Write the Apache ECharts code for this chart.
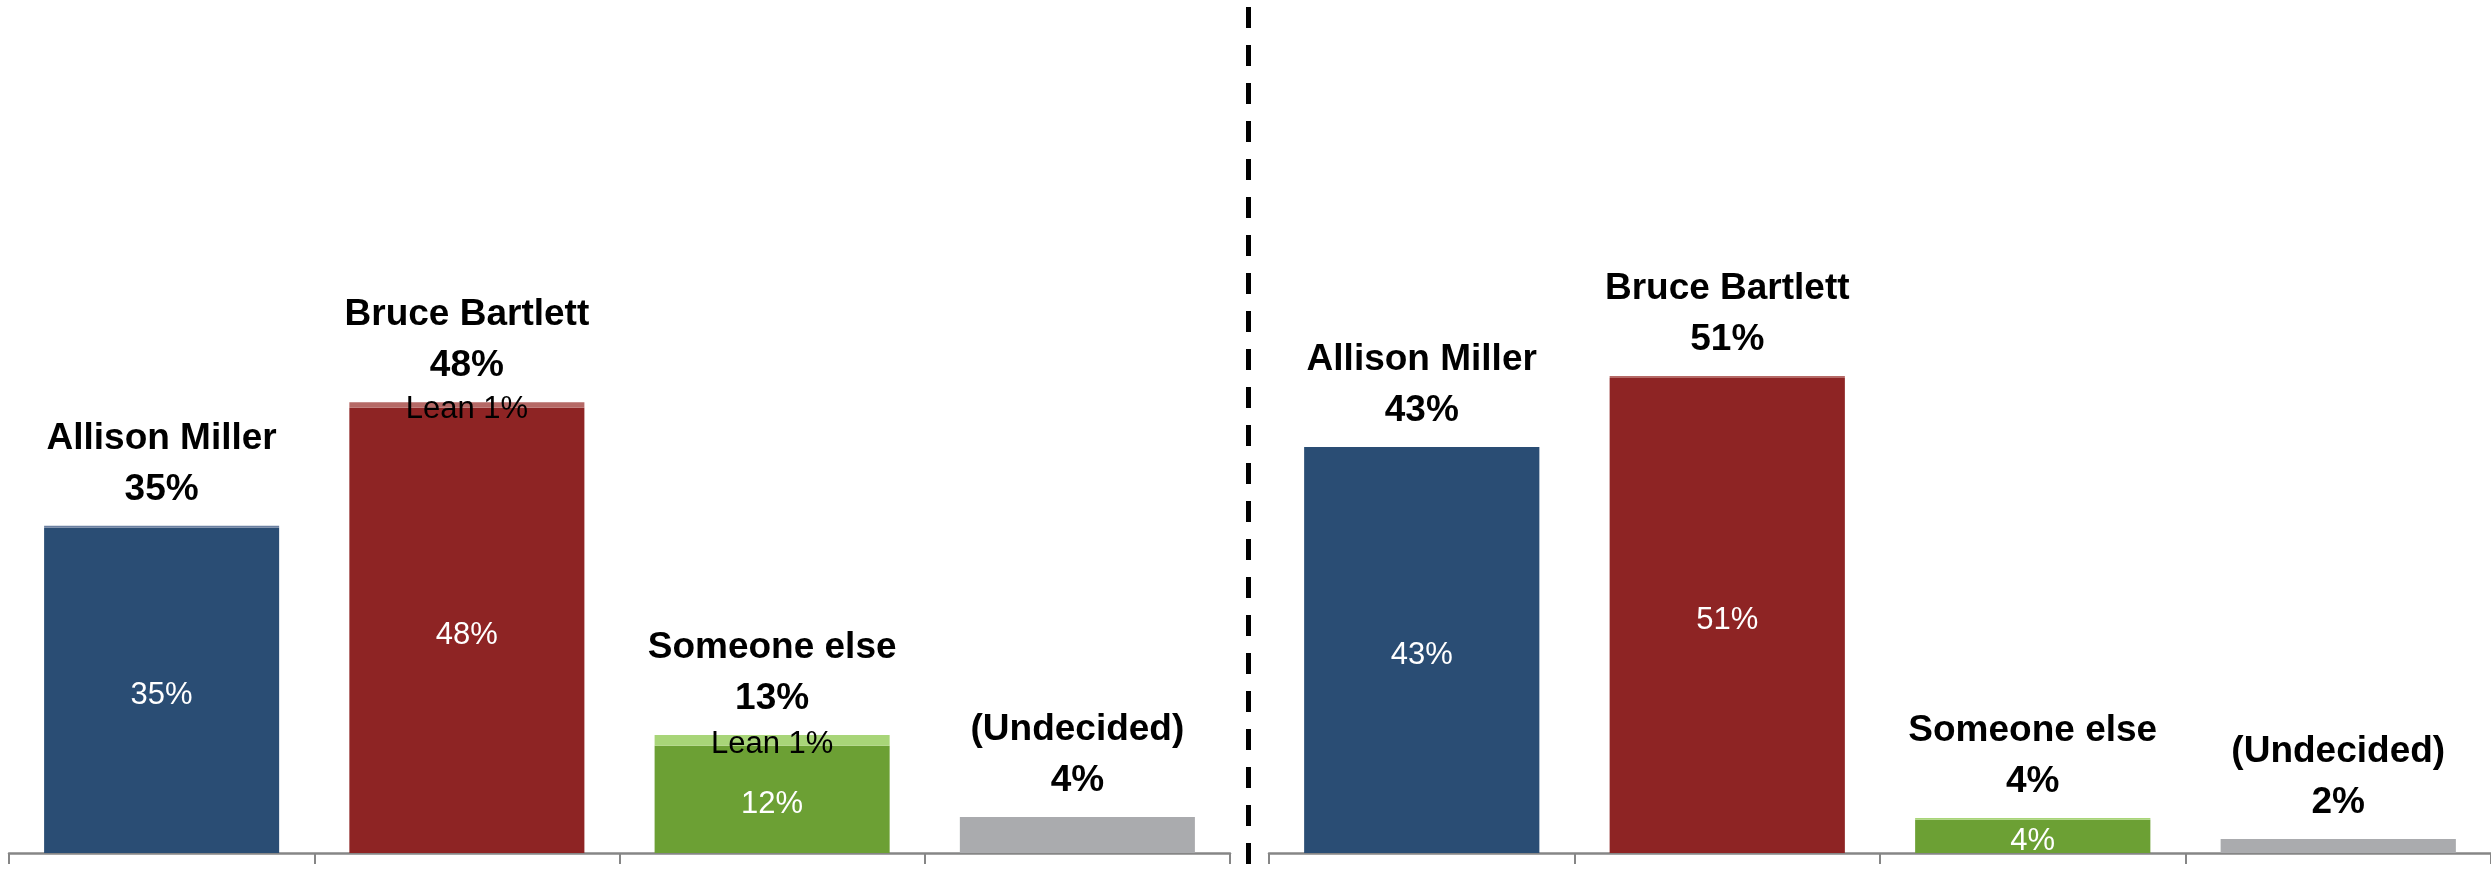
<!DOCTYPE html>
<html>
<head>
<meta charset="utf-8">
<script src="https://cdn.jsdelivr.net/npm/echarts@6/dist/echarts.min.js"></script>
<style>
  html, body { margin: 0; padding: 0; background: #fff; }
  #chart { width: 2491px; height: 877px; }
</style>
</head>
<body>
<div id="chart"></div>
<script>
// ---- data ----
const categories = ['Allison Miller', 'Bruce Bartlett', 'Someone else', '(Undecided)'];

// left panel
const leftCore = [34.85, 47.7, 11.5, 3.86];
const leftLean = [0.2, 0.6, 1.15, 0];
const leftTotalLabels = ['35%', '48%', '13%', '4%'];
const leftCoreLabels = ['35%', '48%', '12%', ''];
const leftLeanLabels = ['', 'Lean 1%', 'Lean 1%', ''];

// right panel
const rightCore = [43.5, 50.9, 3.55, 1.5];
const rightLean = [0, 0.2, 0.2, 0];
const rightTotalLabels = ['43%', '51%', '4%', '2%'];
const rightCoreLabels = ['43%', '51%', '4%', ''];
const rightLeanLabels = ['', '', '', ''];

// ---- styles ----
const coreColors = ['#2A4D74', '#8E2424', '#6CA034', '#AAABAE'];
const leanColors = ['#6A7FA0', '#B56966', '#A8D578', '#C8C9CB'];
const FONT = '"Liberation Sans", Arial, sans-serif';

function panelSeries(idx, core, lean, totalLabels, coreLabels, leanLabels) {
  const common = {
    type: 'bar',
    xAxisIndex: idx,
    yAxisIndex: idx,
    barGap: '-100%',
    barCategoryGap: '23%',
    silent: true,
    animation: false
  };
  return [
    Object.assign({}, common, {
      stack: 's' + idx,
      data: core.map((v, i) => ({ value: v, itemStyle: { color: coreColors[i] } })),
      label: {
        show: true, position: 'inside', color: '#fff',
        fontFamily: FONT, fontSize: 31, offset: [0, 5],
        formatter: p => coreLabels[p.dataIndex]
      }
    }),
    Object.assign({}, common, {
      stack: 's' + idx,
      data: lean.map((v, i) => ({ value: v, itemStyle: { color: leanColors[i] } })),
      label: {
        show: true, position: 'inside', color: '#000',
        fontFamily: FONT, fontSize: 31, offset: [0, 4],
        formatter: p => leanLabels[p.dataIndex]
      }
    }),
    Object.assign({}, common, {
      data: core.map((v, i) => v + lean[i]),
      itemStyle: { color: 'rgba(0,0,0,0)' },
      z: 5,
      label: {
        show: true, position: 'top', distance: 11, color: '#000',
        fontFamily: FONT, fontSize: 37, fontWeight: 'bold',
        lineHeight: 51, align: 'center',
        formatter: p => categories[p.dataIndex] + '\n' + totalLabels[p.dataIndex]
      }
    })
  ];
}

function xAxisDef(idx) {
  return {
    type: 'category', gridIndex: idx, data: categories,
    axisLine: { show: true, lineStyle: { color: '#868686', width: 2.5 } },
    axisTick: { show: true, length: 11, lineStyle: { color: '#868686', width: 2 } },
    axisLabel: { show: false },
    splitLine: { show: false }
  };
}
function yAxisDef(idx) {
  return {
    type: 'value', gridIndex: idx, min: 0, max: 90,
    show: false, splitLine: { show: false }
  };
}

const chart = echarts.init(document.getElementById('chart'), null, { renderer: 'canvas' });
chart.setOption({
  animation: false,
  backgroundColor: '#fff',
  grid: [
    { left: 9, width: 1221, top: 13, bottom: 24 },
    { left: 1269, right: 0, top: 13, bottom: 24 }
  ],
  xAxis: [xAxisDef(0), xAxisDef(1)],
  yAxis: [yAxisDef(0), yAxisDef(1)],
  series: [].concat(
    panelSeries(0, leftCore, leftLean, leftTotalLabels, leftCoreLabels, leftLeanLabels),
    panelSeries(1, rightCore, rightLean, rightTotalLabels, rightCoreLabels, rightLeanLabels)
  ),
  graphic: [{
    type: 'line',
    shape: { x1: 1248.5, y1: 7, x2: 1248.5, y2: 877 },
    style: { stroke: '#000', lineWidth: 5, lineDash: [21, 17] },
    z: 100
  }]
});
</script>
</body>
</html>
